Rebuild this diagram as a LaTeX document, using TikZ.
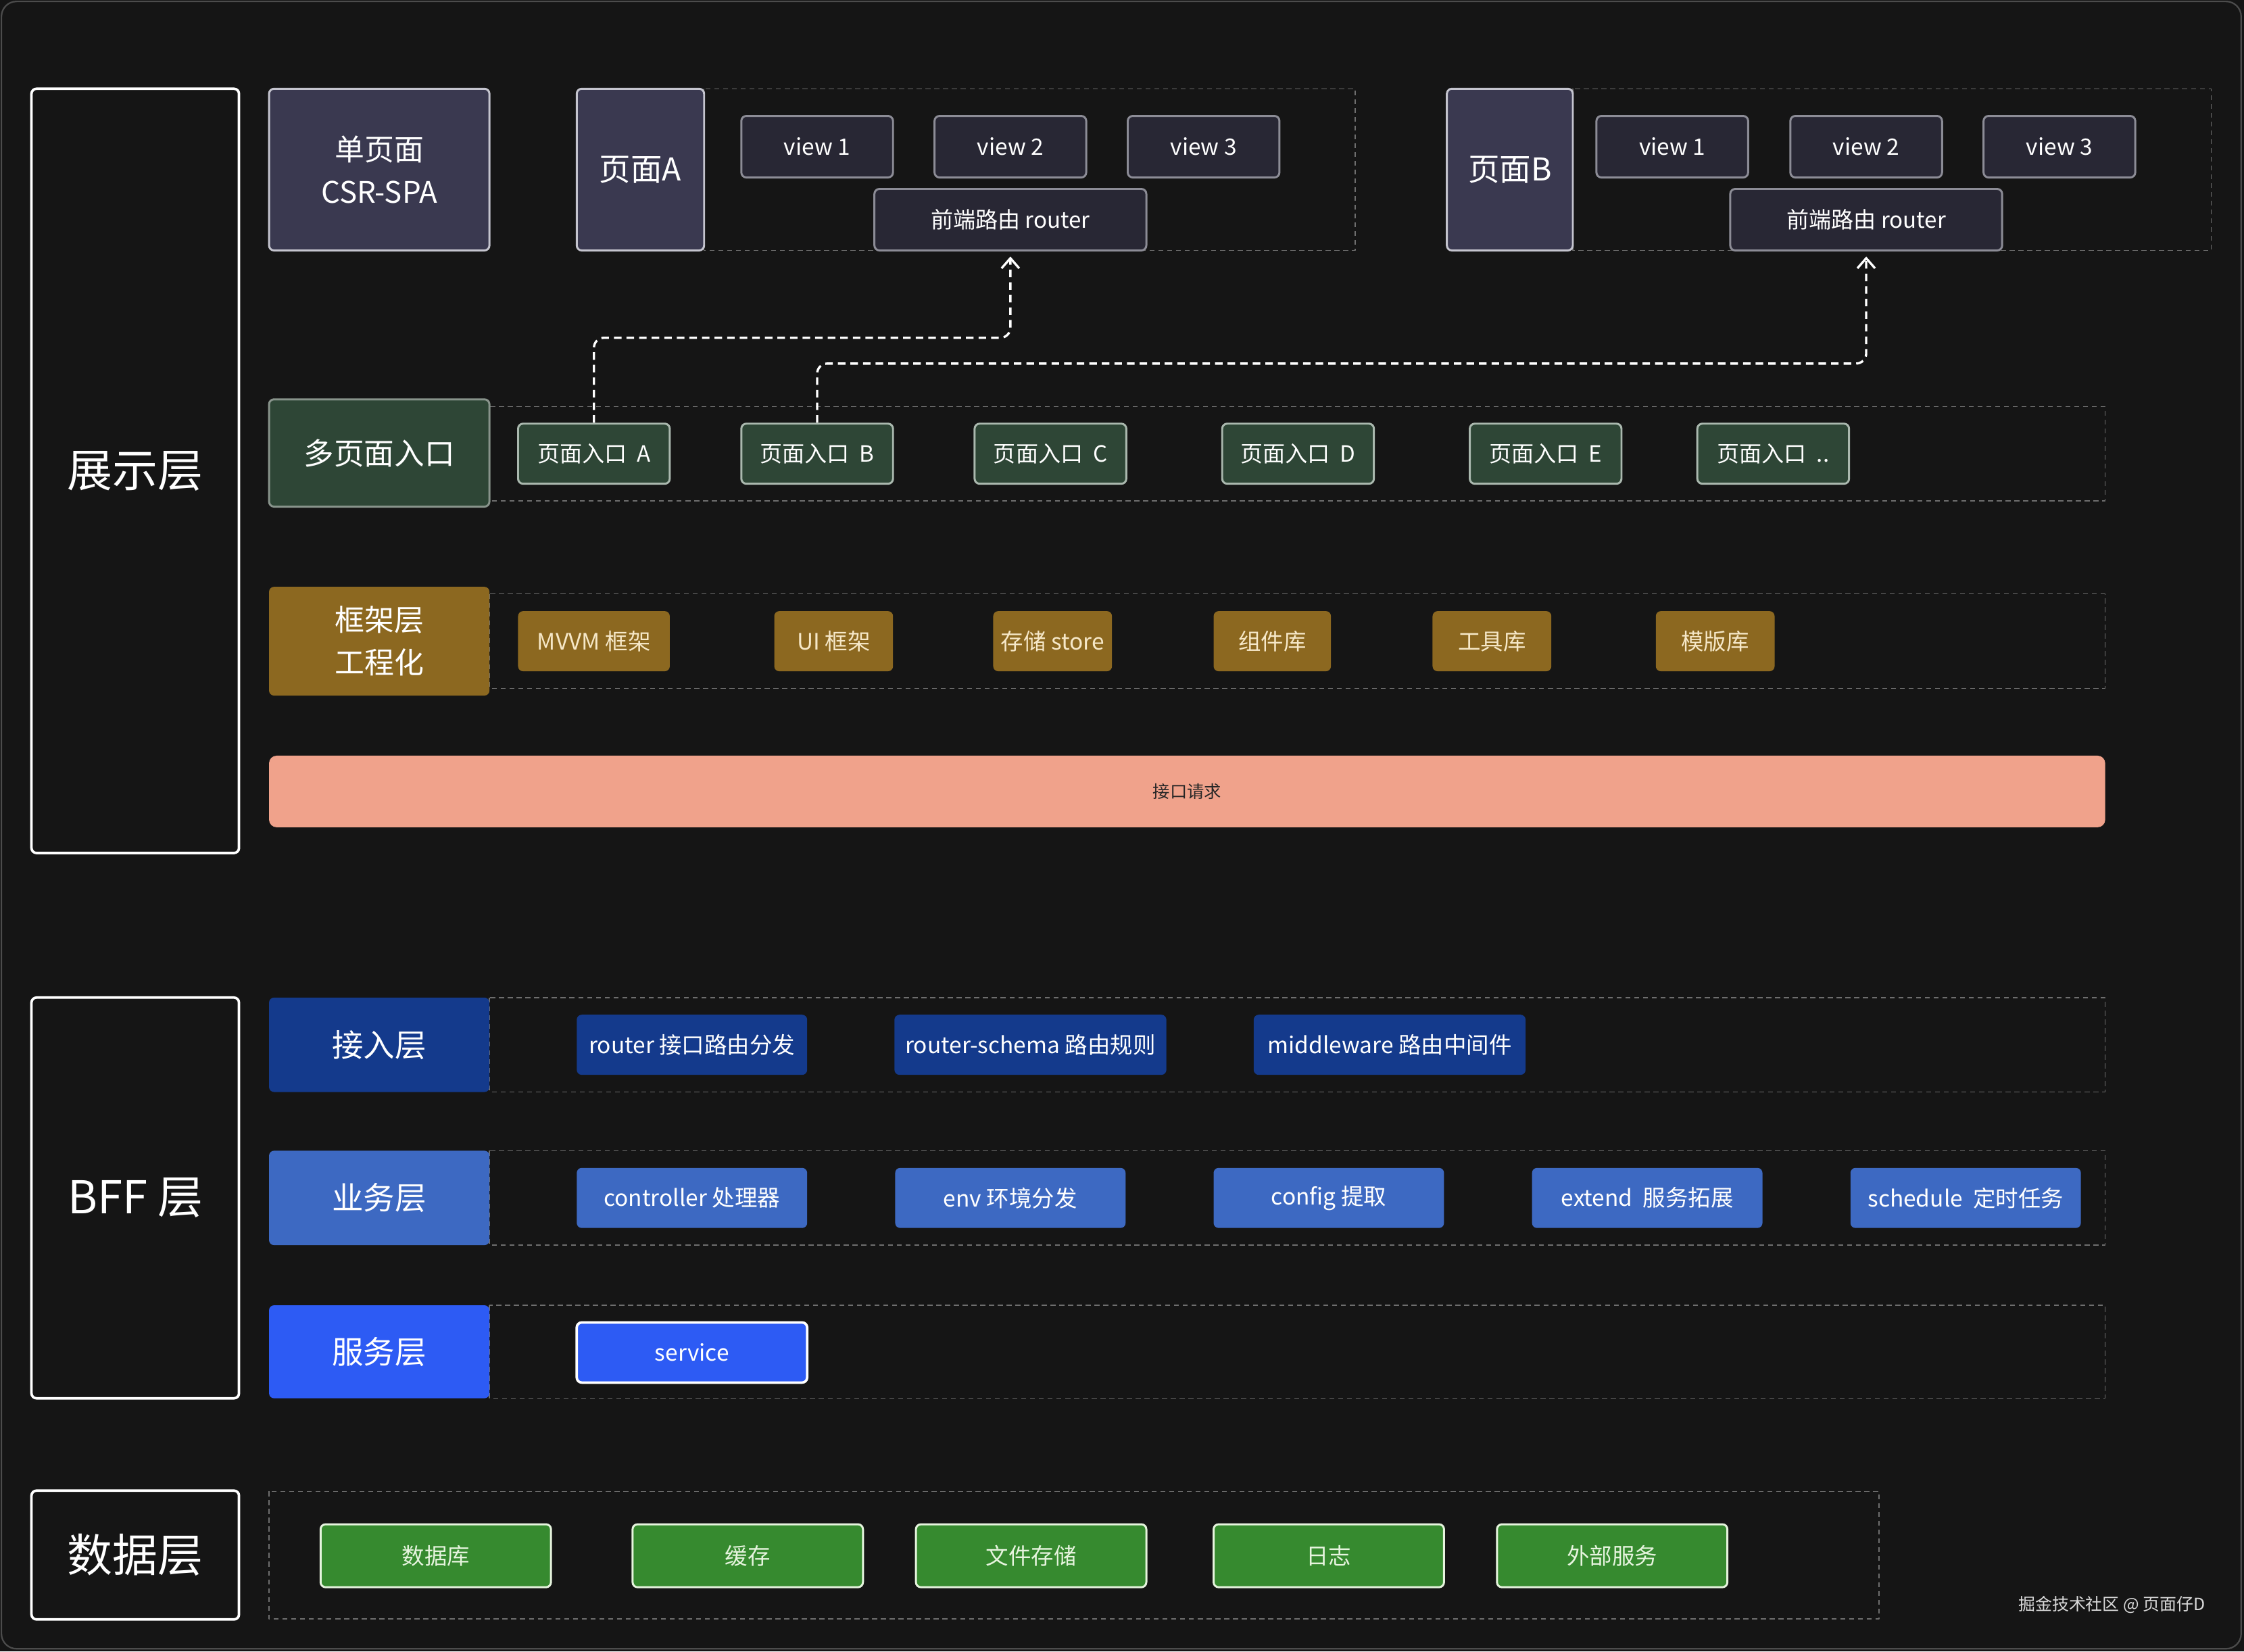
\documentclass[tikz,border=0pt]{standalone}
\usepackage{fontspec}
\setmainfont{Noto Sans CJK SC}
\usetikzlibrary{arrows.meta}

\definecolor{bgdark}{HTML}{151515}
\definecolor{framegray}{HTML}{6E6E6E}
\definecolor{pagefill}{HTML}{3A3950}
\definecolor{pageline}{HTML}{C4C4CE}
\definecolor{viewfill}{HTML}{282734}
\definecolor{viewline}{HTML}{8C8C96}
\definecolor{entryfill}{HTML}{2E4636}
\definecolor{entryline}{HTML}{AAB8AE}
\definecolor{goldfill}{HTML}{8C6820}
\definecolor{goldtext}{HTML}{F6E8C8}
\definecolor{apifill}{HTML}{F0A28B}
\definecolor{accessblue}{HTML}{143A8C}
\definecolor{bizblue}{HTML}{3D69C2}
\definecolor{svcblue}{HTML}{2D5BF4}
\definecolor{datafill}{HTML}{368A2F}
\definecolor{dataline}{HTML}{E6F4DE}

\def\pxu{0.02cm}

\begin{document}
\begin{tikzpicture}[x=0.02cm, y=-0.02cm, line join=round]
      \tikzstyle{box}=[rectangle, rounded corners=2pt, inner sep=0pt, align=center, text=white, line width=0.8pt]
      \tikzstyle{side box}=[box, draw=white, fill=bgdark, line width=1pt, minimum width=145*\pxu, font=\fontsize{18}{22}\selectfont]
      \tikzstyle{page box}=[box, fill=pagefill, draw=pageline, minimum height=113*\pxu]
      \tikzstyle{view box}=[box, fill=viewfill, draw=viewline, minimum height=43*\pxu, font=\fontsize{9}{11}\selectfont]
      \tikzstyle{entry box}=[box, fill=entryfill, draw=entryline, minimum width=106*\pxu, minimum height=42*\pxu, font=\fontsize{8.9}{10}\selectfont]
      \tikzstyle{gold box}=[box, fill=goldfill, text=goldtext, minimum height=42*\pxu, font=\fontsize{9}{10}\selectfont]
      \tikzstyle{head box}=[box, minimum width=154*\pxu, font=\fontsize{12.5}{16}\selectfont]
      \tikzstyle{bff box}=[box, minimum width=161*\pxu, minimum height=42*\pxu, font=\fontsize{9}{11}\selectfont]
      \tikzstyle{data box}=[box, fill=datafill, draw=dataline, text=dataline, minimum width=161*\pxu, minimum height=44*\pxu, font=\fontsize{9}{10}\selectfont]
      \tikzstyle{frame}=[draw=framegray, line width=0.4pt, dash pattern=on 2pt off 1.5pt]
      \tikzstyle{flow}=[draw=white, line width=0.9pt, dash pattern=on 3pt off 2pt, rounded corners=4pt, -{Straight Barb[length=4pt,width=7pt]}, shorten >=2pt]

      % Background
      \fill[bgdark] (0,0) rectangle (1568,1154);
      \useasboundingbox (0,0) rectangle (1568,1154);
      \draw[black!70!white, line width=0.6pt, rounded corners=6pt] (1,1) rectangle (1566,1152);

      % Dashed groups
      \draw[frame] (492,62) rectangle (947,175);
      \draw[frame] (1099,62) rectangle (1545,175);
      \foreach \top/\bot in {284/350, 415/481, 697/763, 804/870, 912/977}
          \draw[frame] (342,\top) rectangle (1471,\bot);
      \draw[frame] (188,1042) rectangle (1313,1131);

      % Layer names on the left
      \node[side box, minimum height=534*\pxu] (show) at (94.5,329) {展示层};
      \node[side box, minimum height=280*\pxu] (bff) at (94.5,837) {BFF 层};
      \node[side box, minimum height=90*\pxu] (data) at (94.5,1086.5) {数据层};

      % Single page row
      \node[page box, minimum width=154*\pxu, font=\fontsize{11.8}{17}\selectfont] (spa) at (265,118.5) {单页面\\CSR-SPA};
      \node[page box, minimum width=89*\pxu, font=\fontsize{12.5}{15}\selectfont] (pageA) at (447.5,118.5) {页面A};
      \node[page box, minimum width=88*\pxu, font=\fontsize{12.5}{15}\selectfont] (pageB) at (1055,118.5) {页面B};
      \foreach \n/\x in {1/571, 2/706, 3/841}
          \node[view box, minimum width=106*\pxu] (viewA-\n) at (\x,102.5) {view \n};
      \foreach \n/\x in {1/1168.5, 2/1304, 3/1439}
          \node[view box, minimum width=106*\pxu] (viewB-\n) at (\x,102.5) {view \n};
      \node[view box, minimum width=190*\pxu, font=\fontsize{8.9}{10}\selectfont] (routerA) at (706,153.5) {前端路由 router};
      \node[view box, minimum width=190*\pxu, font=\fontsize{8.9}{10}\selectfont] (routerB) at (1304,153.5) {前端路由 router};

      % Multi page entries
      \node[head box, fill=entryfill, draw=entryline!80!black, minimum height=75*\pxu, font=\fontsize{12}{14}\selectfont] (mpa) at (265,316.5) {多页面入口};
      \foreach \n/\x in {A/415, B/571, C/734, D/907, E/1080}
          \node[entry box] (ent\n) at (\x,317) {页面入口\ \ \n};
      \node[entry box] (entX) at (1239,317) {页面入口\ \ ..};

      % Framework row
      \node[head box, fill=goldfill, minimum height=76*\pxu, font=\fontsize{11.8}{17}\selectfont] (frm) at (265,448) {框架层\\工程化};
      \foreach \id/\x/\w/\txt in {mvvm/415/106/MVVM 框架, ui/582.5/83/UI 框架, store/735.5/83/存储 store,
                                   comp/889/82/组件库, tool/1042.5/83/工具库, tpl/1198.5/83/模版库}
          \node[gold box, minimum width=\w*\pxu] (\id) at (\x,448) {\txt};

      % Request bar
      \node[box, fill=apifill, text=black!85, rounded corners=3pt, minimum width=1283*\pxu, minimum height=50*\pxu, font=\fontsize{6.8}{8}\selectfont] (api) at (829.5,553) {接口请求};

      % BFF rows
      \node[head box, fill=accessblue, minimum height=66*\pxu] (access) at (265,730) {接入层};
      \foreach \id/\x/\w/\txt in {rt/483.5/161/router 接口路由分发, schema/720/190/router-schema 路由规则, mw/971/190/middleware 路由中间件}
          \node[bff box, fill=accessblue, minimum width=\w*\pxu] (\id) at (\x,730) {\txt};

      \node[head box, fill=bizblue, minimum height=66*\pxu] (biz) at (265,837) {业务层};
      \foreach \id/\x/\txt in {ctrl/483.5/controller 处理器, env/706/env 环境分发, cfg/928.5/config 提取,
                               ext/1151/extend\ \ 服务拓展, sched/1373.5/schedule\ \ 定时任务}
          \node[bff box, fill=bizblue] (\id) at (\x,837) {\txt};

      \node[head box, fill=svcblue, minimum height=65*\pxu] (svc) at (265,944.5) {服务层};
      \node[bff box, fill=svcblue, draw=white, line width=1pt] (service) at (483.5,945) {service};

      % Data row
      \foreach \id/\x/\txt in {db/304.5/数据库, cache/522.5/缓存, file/720.5/文件存储, log/928.5/日志, ext/1126.5/外部服务}
          \node[data box] (data-\id) at (\x,1087) {\txt};

      % Entries to the front-end routers
      \coordinate (bendA) at (0,236);
      \coordinate (bendB) at (0,254);
      \draw[flow] (entA.north) -- (entA.north |- bendA) -| (routerA.south);
      \draw[flow] (entB.north) -- (entB.north |- bendB) -| (routerB.south);

      % Watermark
      \node[text=white!85!black, font=\fontsize{6.7}{8}\selectfont, anchor=west, inner sep=0pt] (mark) at (1410,1121) {掘金技术社区 @ 页面仔D};
  \end{tikzpicture}
\end{document}
